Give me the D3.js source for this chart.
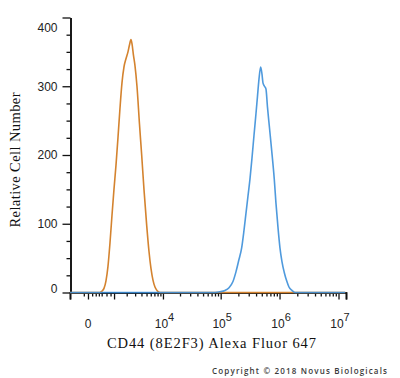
<!DOCTYPE html>
<html><head><meta charset="utf-8">
<script src="https://cdn.jsdelivr.net/npm/d3@7"></script>
<style>html,body{margin:0;padding:0;background:#fff}svg{display:block}</style>
</head><body>
<svg id="c" width="400" height="378"></svg>
<script>
// ---- data (fluorescence intensity, relative cell count) ----
const orangeX = [-570, 338, 412, 491, 577, 669, 770, 878, 995, 1122, 1259, 1408, 1568, 1741, 1928, 2131, 2294, 2466, 2587, 2777, 2978, 3266, 3659, 4038, 4470, 5030, 5555, 6052, 6590, 7171, 7799, 8838, 13000000];
const orangeY = [0, 0, 2, 6, 17, 38, 72, 112, 150, 185, 225, 268, 305, 328, 340, 350, 360, 368, 362, 345, 330, 300, 245, 200, 150, 98, 60, 35, 18, 8, 3, 0, 0];
const blueX = [-570, 79910, 97244, 118328, 138415, 161916, 182082, 204756, 227589, 249023, 269303, 291201, 314905, 340477, 368183, 398147, 422157, 447666, 478395, 503349, 523386, 554952, 588470, 623958, 674672, 729574, 813965, 869772, 940466, 1016876, 1099512, 1212202, 1320987, 1445111, 1624590, 1826482, 13000000];
const blueY = [0, 0, 1, 3, 7, 16, 30, 48, 65, 90, 115, 140, 165, 195, 228, 260, 285, 310, 328, 318, 305, 300, 296, 270, 240, 210, 165, 130, 95, 65, 45, 28, 17, 8, 3, 0, 0];
const yMajorTicks = [0, 100, 200, 300, 400];
const yMinorTicks = [25, 50, 75, 125, 150, 175, 225, 250, 275, 325, 350, 375];
const xMajorTicks = [0, 1000, 10000, 100000, 1000000, 10000000];
const xMinorTicks = [-100, 100, 200, 300, 400, 600, 800,
  2000, 3000, 4000, 5000, 6000, 7000, 8000, 9000,
  20000, 30000, 40000, 50000, 60000, 70000, 80000, 90000,
  200000, 300000, 400000, 500000, 600000, 700000, 800000, 900000,
  2000000, 3000000, 4000000, 5000000, 6000000, 7000000, 8000000, 9000000];
const xLabels = [{v: 0, base: "0", exp: ""}, {v: 10000, base: "10", exp: "4"}, {v: 100000, base: "10", exp: "5"}, {v: 1000000, base: "10", exp: "6"}, {v: 10000000, base: "10", exp: "7"}];

const svg = d3.select("#c");
const x = d3.scaleSymlog().constant(566).domain([-576, 13400000]).range([70, 346]);
const y = d3.scaleLinear().domain([0, 400]).range([292.5, 17.5]);
const tickFont = "'Liberation Sans', Arial, sans-serif";

// y axis
const gy = svg.append("g").attr("transform", "translate(70.5,0)");
gy.call(d3.axisLeft(y).tickValues(yMinorTicks).tickSize(4).tickSizeOuter(0).tickFormat(""));
gy.append("g").call(d3.axisLeft(y).tickValues(yMajorTicks).tickSize(8).tickSizeOuter(0).tickPadding(5));
gy.selectAll("path.domain").attr("stroke", "#111").attr("stroke-width", 1.6);
gy.selectAll("line").attr("stroke", "#111").attr("stroke-width", 1.3);
gy.selectAll("text").attr("font-family", tickFont).attr("font-size", 12).attr("fill", "#222")
  .attr("dy", d => d === 400 ? "1.15em" : d === 0 ? "0" : "0.32em");

// x axis
const gx = svg.append("g").attr("transform", "translate(0,292.5)");
gx.call(d3.axisBottom(x).tickValues(xMinorTicks).tickSize(4).tickSizeOuter(7).tickFormat(""));
gx.append("g").call(d3.axisBottom(x).tickValues(xMajorTicks).tickSize(7).tickSizeOuter(7).tickFormat(""));
gx.selectAll("path.domain").attr("stroke", "#111").attr("stroke-width", 1.6);
gx.selectAll("line").attr("stroke", "#111").attr("stroke-width", 1.3);

// curves (drawn over the axes, as in the reference)
const line = d3.line().x(d => x(d[0])).y(d => y(d[1])).curve(d3.curveMonotoneX);
svg.append("path").datum(d3.zip(orangeX, orangeY)).attr("d", line)
  .attr("fill", "none").attr("stroke", "#d4832f").attr("stroke-width", 1.6).attr("stroke-linejoin", "round");
svg.append("path").datum(d3.zip(blueX, blueY)).attr("d", line)
  .attr("fill", "none").attr("stroke", "#3c8fd9").attr("stroke-width", 1.6).attr("stroke-linejoin", "round")
  .attr("stroke-opacity", 0.9);

const lab = svg.append("g").attr("font-family", tickFont).attr("font-size", 12).attr("fill", "#222");
xLabels.forEach(l => {
  const t = lab.append("text").attr("x", x(l.v) + (l.exp ? 1.5 : 0)).attr("y", 328).attr("text-anchor", "middle");
  t.append("tspan").text(l.base);
  if (l.exp) t.append("tspan").attr("dy", -7).attr("font-size", 11).text(l.exp);
});

// titles
svg.append("text").attr("x", 211.5).attr("y", 348).attr("text-anchor", "middle")
  .attr("font-family", "'Liberation Serif', 'Times New Roman', serif").attr("font-size", 14.5).attr("fill", "#111")
  .attr("textLength", 209).attr("lengthAdjust", "spacing")
  .text("CD44 (8E2F3) Alexa Fluor 647");
svg.append("text").attr("transform", "translate(20,160) rotate(-90)").attr("text-anchor", "middle")
  .attr("font-family", "'Liberation Serif', 'Times New Roman', serif").attr("font-size", 14.5).attr("fill", "#111")
  .attr("textLength", 135).attr("lengthAdjust", "spacing")
  .text("Relative Cell Number");
svg.append("text").attr("x", 212).attr("y", 374)
  .attr("font-family", "'Open Sans', sans-serif").attr("font-size", 8).attr("font-weight", 600).attr("fill", "#3a3a3a")
  .attr("textLength", 175).attr("lengthAdjust", "spacing")
  .text("Copyright © 2018 Novus Biologicals");
</script>
</body></html>
